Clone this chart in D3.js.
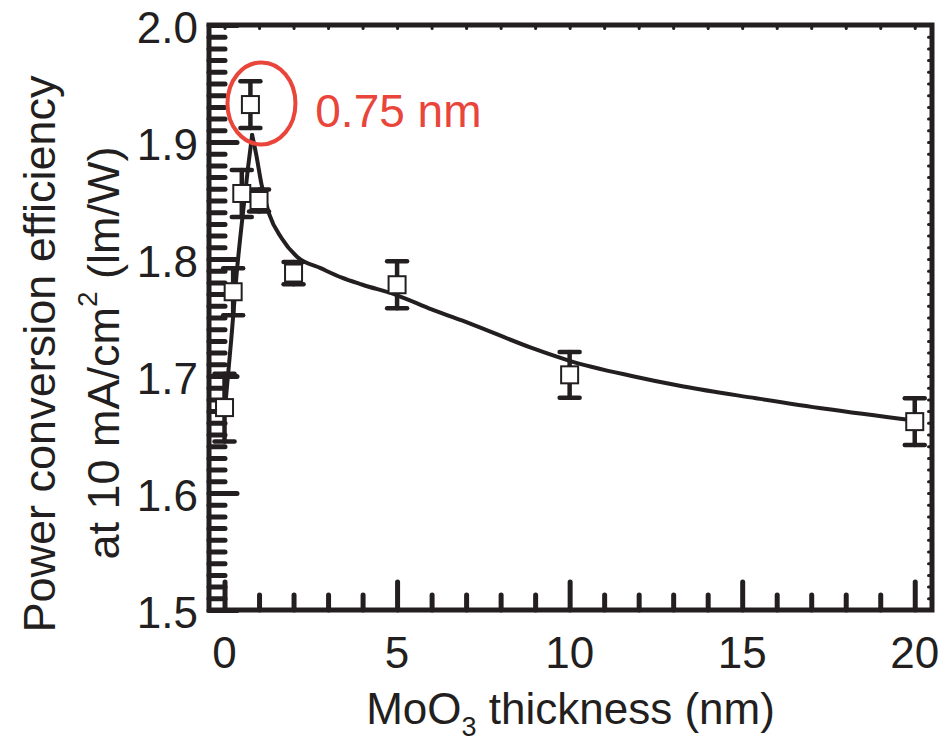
<!DOCTYPE html>
<html>
<head>
<meta charset="utf-8">
<script src="https://cdn.jsdelivr.net/npm/d3@7"></script>
<style>
  html, body { margin: 0; padding: 0; background: #fff; }
  svg { display: block; }
  text { font-family: "Liberation Sans", Arial, Helvetica, sans-serif; fill: #231f20; }
</style>
</head>
<body>
<svg id="chart" width="943" height="745"></svg>
<script>
// MoO3 interlayer thickness (nm) and measured power conversion efficiency (lm/W)
const thickness = [0, 0.25, 0.5, 0.75, 1, 2, 5, 10, 20];
const efficiency = [1.673, 1.772, 1.856, 1.932, 1.850, 1.788, 1.778, 1.701, 1.661];
const errorBar = [0.029, 0.020, 0.020, 0.020, 0.0095, 0.0095, 0.020, 0.0195, 0.020];

// Guide-to-the-eye curve: rising branch up to the peak, then the decaying branch
const riseX = [0, 0.2, 0.35, 0.54, 0.68, 0.8];
const riseY = [1.668, 1.733, 1.787, 1.841, 1.878, 1.906];
const fallX = [0.8, 0.92, 1.07, 1.3, 1.65, 2.1, 2.8, 3.4, 4.0, 5.0, 6.0, 7.1, 8.9, 10.0, 11.8, 13.3, 15.4, 17.4, 20];
const fallY = [1.906, 1.889, 1.864, 1.838, 1.818, 1.802, 1.792, 1.784, 1.778, 1.769, 1.757, 1.745, 1.724, 1.713, 1.700, 1.691, 1.681, 1.672, 1.662];

// Axis ticks and labels
const xMajorTicks = [0, 5, 10, 15, 20];
const xTickLabels = ["0", "5", "10", "15", "20"];
const yMajorTicks = [1.5, 1.6, 1.7, 1.8, 1.9, 2.0];
const yTickLabels = ["1.5", "1.6", "1.7", "1.8", "1.9", "2.0"];

// Highlight of the optimum thickness
const highlightX = 1.07;
const highlightY = 1.933;
const highlightText = "0.75 nm";
const highlightTextX = 2.63;
const highlightTextY = 1.9128;

const ink = "#231f20";
const red = "#e9453b";

const svg = d3.select("#chart");
const L = 209, R = 932, T = 25, B = 610;

const x = d3.scaleLinear().domain([-0.45, 20.5]).range([L, R]);
const y = d3.scaleLinear().domain([1.5, 2.0]).range([B, T]);

// Minor tick positions
const xMinor = d3.range(0, 21, 1).filter(v => v % 5 !== 0);
const yMinor = d3.range(150, 201, 1).map(v => v / 100).filter(v => Math.round(v * 100) % 10 !== 0);
const xAll = d3.range(0, 21, 1);
const yAll = d3.range(150, 201, 1).map(v => v / 100);

function styleAxis(g, width) {
  g.select(".domain").remove();
  g.selectAll(".tick line")
    .attr("stroke", ink)
    .attr("stroke-width", width)
    .attr("stroke-linecap", "round");
  g.selectAll(".tick text").remove();
}

// Left axis: inward minor and major ticks
svg.append("g").attr("transform", `translate(${L},0)`)
  .call(d3.axisRight(y).tickValues(yMinor).tickSize(16))
  .call(g => styleAxis(g, 5));
svg.append("g").attr("transform", `translate(${L},0)`)
  .call(d3.axisRight(y).tickValues(yMajorTicks).tickSize(28))
  .call(g => styleAxis(g, 5));

// Bottom axis
svg.append("g").attr("transform", `translate(0,${B})`)
  .call(d3.axisTop(x).tickValues(xMinor).tickSize(15))
  .call(g => styleAxis(g, 5));
svg.append("g").attr("transform", `translate(0,${B})`)
  .call(d3.axisTop(x).tickValues(xMajorTicks).tickSize(28))
  .call(g => styleAxis(g, 5));

// Mirror ticks on top and right edges
svg.append("g").attr("transform", `translate(0,${T})`)
  .call(d3.axisBottom(x).tickValues(xAll).tickSize(3.5))
  .call(g => styleAxis(g, 3));
svg.append("g").attr("transform", `translate(${R},0)`)
  .call(d3.axisLeft(y).tickValues(yAll).tickSize(3.5))
  .call(g => styleAxis(g, 3));

// Frame
svg.append("rect")
  .attr("x", L).attr("y", T)
  .attr("width", R - L).attr("height", B - T)
  .attr("fill", "none")
  .attr("stroke", ink)
  .attr("stroke-width", 5);

// Tick labels
svg.append("g").selectAll("text")
  .data(yMajorTicks)
  .join("text")
  .attr("x", 198)
  .attr("y", d => y(d))
  .attr("dy", "0.42em")
  .attr("text-anchor", "end")
  .attr("font-size", 44)
  .text((d, i) => yTickLabels[i]);

svg.append("g").selectAll("text")
  .data(xMajorTicks)
  .join("text")
  .attr("x", d => x(d))
  .attr("y", B + 58)
  .attr("text-anchor", "middle")
  .attr("font-size", 44)
  .text((d, i) => xTickLabels[i]);

// Axis titles
const xt = svg.append("text")
  .attr("x", (L + R) / 2)
  .attr("y", 724)
  .attr("text-anchor", "middle")
  .attr("font-size", 44);
xt.append("tspan").text("MoO");
xt.append("tspan").attr("font-size", 27).attr("dy", 12).text("3");
xt.append("tspan").attr("dy", -12).text(" thickness (nm)");

svg.append("text")
  .attr("transform", "translate(55,354) rotate(-90)")
  .attr("text-anchor", "middle")
  .attr("font-size", 45)
  .text("Power conversion efficiency");

const yt2 = svg.append("text")
  .attr("transform", "translate(119,353) rotate(-90)")
  .attr("text-anchor", "middle")
  .attr("font-size", 45);
yt2.append("tspan").text("at 10 mA/cm");
yt2.append("tspan").attr("font-size", 28).attr("dy", -22).text("2");
yt2.append("tspan").attr("dy", 22).text(" (lm/W)");

// Fitted curve
const line = d3.line().x(d => x(d[0])).y(d => y(d[1])).curve(d3.curveMonotoneX);
const curveStyle = p => p.attr("fill", "none").attr("stroke", ink).attr("stroke-width", 4).attr("stroke-linejoin", "round").attr("stroke-linecap", "round");
svg.append("path").datum(d3.zip(riseX, riseY)).attr("d", line).call(curveStyle);
svg.append("path").datum(d3.zip(fallX, fallY)).attr("d", line).call(curveStyle);

// Error bars
const pts = thickness.map((t, i) => ({ t, v: efficiency[i], e: errorBar[i] }));
const eb = svg.append("g")
  .attr("stroke", ink)
  .attr("stroke-width", 4.5)
  .attr("stroke-linecap", "round");
eb.selectAll("line.v").data(pts).join("line").attr("class", "v")
  .attr("x1", d => x(d.t)).attr("x2", d => x(d.t))
  .attr("y1", d => y(d.v - d.e)).attr("y2", d => y(d.v + d.e));
eb.selectAll("line.top").data(pts).join("line").attr("class", "top")
  .attr("x1", d => x(d.t) - 10).attr("x2", d => x(d.t) + 10)
  .attr("y1", d => y(d.v + d.e)).attr("y2", d => y(d.v + d.e));
eb.selectAll("line.bot").data(pts).join("line").attr("class", "bot")
  .attr("x1", d => x(d.t) - 10).attr("x2", d => x(d.t) + 10)
  .attr("y1", d => y(d.v - d.e)).attr("y2", d => y(d.v - d.e));

// Open square markers
const s = 17;
svg.append("g").selectAll("rect").data(pts).join("rect")
  .attr("x", d => x(d.t) - s / 2)
  .attr("y", d => y(d.v) - s / 2)
  .attr("width", s).attr("height", s)
  .attr("fill", "#fff")
  .attr("stroke", ink)
  .attr("stroke-width", 2);

// Highlight ellipse and label
svg.append("ellipse")
  .attr("cx", x(highlightX)).attr("cy", y(highlightY))
  .attr("rx", 34).attr("ry", 41)
  .attr("fill", "none")
  .attr("stroke", red)
  .attr("stroke-width", 4);

svg.append("text")
  .attr("x", x(highlightTextX))
  .attr("y", y(highlightTextY))
  .attr("font-size", 46)
  .style("fill", red)
  .text(highlightText);
</script>
</body>
</html>
